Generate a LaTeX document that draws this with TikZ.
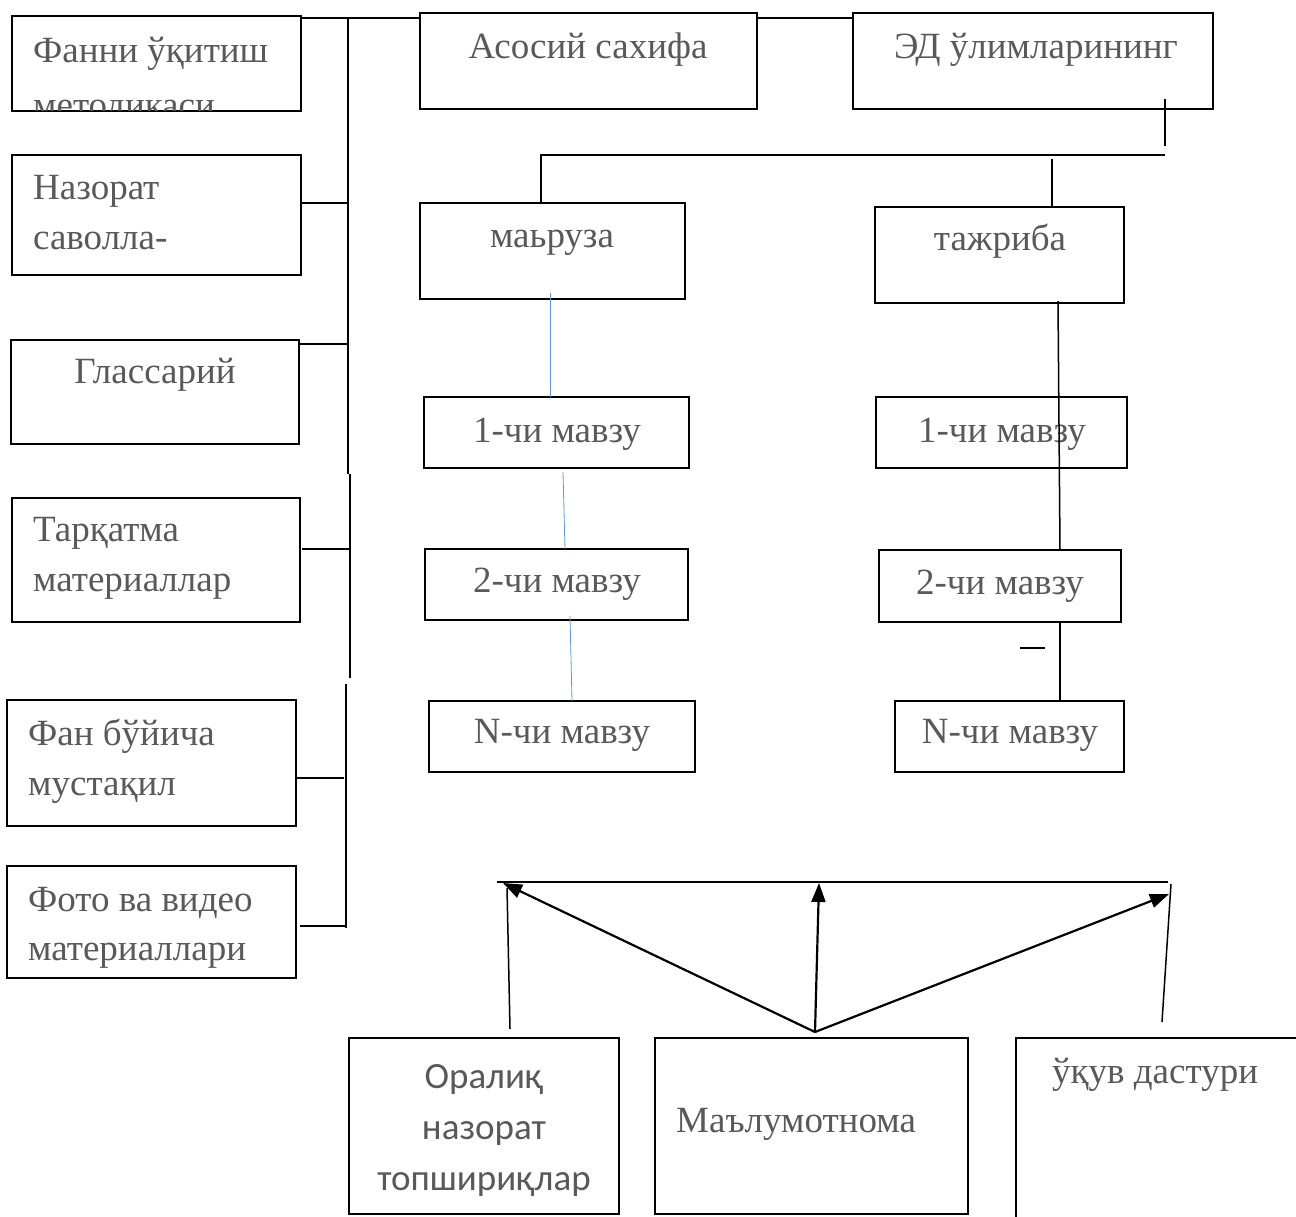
\documentclass[tikz,border=0pt]{standalone}
\usepackage{fontspec}
\setmainfont{Liberation Serif}
\newfontfamily\calib{Carlito}
\usetikzlibrary{arrows.meta}
\definecolor{tcol}{RGB}{89,89,89}
\definecolor{bluel}{RGB}{91,155,213}
\tikzset{
  box/.style={draw=black, line width=1.8pt, inner sep=0pt, outer sep=0pt, anchor=north west},
  nobox/.style={inner sep=0pt, outer sep=0pt, anchor=north west},
  lbl/.style={text=tcol, inner sep=0pt, font=\fontsize{37}{50}\selectfont},
  lblw/.style={lbl, anchor=base west},
  lblc/.style={lbl, anchor=base},
  slbl/.style={text=tcol, inner sep=0pt, anchor=base, font=\calib\fontsize{37}{50}\selectfont},
  conn/.style={line width=1.5pt, black},
  bconn/.style={line width=0.8pt, bluel},
  arr/.style={line width=2.2pt, black, -{Triangle[length=19pt,width=14pt]}}
}
\begin{document}
\begin{tikzpicture}[x=1pt,y=-1pt]
\useasboundingbox (0,0) rectangle (1296,1216);
\fill[white] (0,0) rectangle (1296,1216);
% left column boxes
\node[box, minimum width=289pt, minimum height=95pt] (b1) at (12,16) {};
\node[box, minimum width=289pt, minimum height=120pt] (b2) at (12,155) {};
\node[box, minimum width=288pt, minimum height=104pt] (b3) at (11,340) {};
\node[box, minimum width=288pt, minimum height=124pt] (b4) at (12,498) {};
\node[box, minimum width=289pt, minimum height=126pt] (b5) at (7,700) {};
\node[box, minimum width=289pt, minimum height=112pt] (b6) at (7,866) {};
\begin{scope}
\clip (13,17) rectangle (300,110);
\node[lblw] (t1a) at (33,62) {Фанни ўқитиш};
\node[lblw] (t1b) at (33,117) {методикаси};
\end{scope}
\node[lblw] (t2a) at (33,199) {Назорат};
\node[lblw] (t2b) at (33,249) {саволла-};
\node[lblc] (t3) at (155,383) {Глассарий};
\node[lblw] (t4a) at (33,541) {Тарқатма};
\node[lblw] (t4b) at (33,591) {материаллар};
\node[lblw] (t5a) at (28,745) {Фан бўйича};
\node[lblw] (t5b) at (28,795) {мустақил};
\node[lblw] (t6a) at (28,911) {Фото ва видео};
\node[lblw] (t6b) at (28,960) {материаллари};
% top boxes
\node[box, minimum width=337pt, minimum height=96pt] (asosiy) at (420,13) {};
\node[box, minimum width=360pt, minimum height=96pt] (ed) at (853,13) {};
\node[lblc] (tas) at (588,58) {Асосий сахифа};
\node[lblc] (ted) at (1036,58) {ЭД ўлимларининг};
% second level
\node[box, minimum width=265pt, minimum height=96pt] (maruza) at (420,203) {};
\node[box, minimum width=249pt, minimum height=96pt] (tajriba) at (875,207) {};
\node[lblc] (tma) at (552,247) {маьруза};
\node[lblc] (tta) at (1000,250) {тажриба};
% topics left
\node[box, minimum width=265pt, minimum height=71pt] (l1) at (424,397) {};
\node[box, minimum width=263pt, minimum height=71pt] (l2) at (425,549) {};
\node[box, minimum width=266pt, minimum height=71pt] (l3) at (429,701) {};
\node[lblc] (tl1) at (557,442) {1-чи мавзу};
\node[lblc] (tl2) at (557,592) {2-чи мавзу};
\node[lblc] (tl3) at (562,743) {N-чи мавзу};
% topics right
\node[box, minimum width=251pt, minimum height=71pt] (r1) at (876,397) {};
\node[box, minimum width=242pt, minimum height=72pt] (r2) at (879,550) {};
\node[box, minimum width=229pt, minimum height=71pt] (r3) at (895,701) {};
\node[lblc] (tr1) at (1002,442) {1-чи мавзу};
\node[lblc] (tr2) at (1000,594) {2-чи мавзу};
\node[lblc] (tr3) at (1010,743) {N-чи мавзу};
% bottom boxes
\node[box, minimum width=270pt, minimum height=176pt] (oral) at (349,1038) {};
\node[box, minimum width=313pt, minimum height=176pt] (malum) at (655,1038) {};
\node[nobox, minimum width=282pt, minimum height=180pt] (ukuv) at (1016,1038) {};
\draw[line width=1.8pt] (ukuv.south west) -- (ukuv.north west) -- (ukuv.north east);
\node[slbl] (to1) at (484,1088) {Оралиқ};
\node[slbl] (to2) at (484,1139) {назорат};
\node[slbl] (to3) at (484,1190) {топшириқлар};
\node[lblw] (tm) at (676,1132) {Маълумотнома};
\node[lblw] (tu) at (1052,1083) {ўқув дастури};
% left bus
\coordinate (busTop) at (348,18);
\coordinate (busB) at (348,474);
\coordinate (busC) at (350,474);
\coordinate (busD) at (350,678);
\coordinate (busE) at (346,684);
\coordinate (busF) at (346,928);
\draw[conn] (busTop) -- (busB);
\draw[conn] (busC) -- (busD);
\draw[conn] (busE) -- (busF);
\draw[conn] (b1.east |- busTop) -- (asosiy.west |- busTop);
\draw[conn] (asosiy.east |- busTop) -- (ed.west |- busTop);
\coordinate (c2) at (301,203);
\draw[conn] (c2) -- (c2 -| busTop);
\coordinate (c3) at (299,344);
\draw[conn] (c3) -- (c3 -| busTop);
\coordinate (c4) at (302,549);
\draw[conn] (c4) -- (c4 -| busC);
\coordinate (c5) at (296,778);
\coordinate (c5e) at (344,778);
\draw[conn] (c5) -- (c5e);
\coordinate (c6) at (300,926);
\draw[conn] (c6) -- (c6 -| busF);
% ED to second level
\coordinate (edA) at (1165,99);
\coordinate (edB) at (1165,146);
\draw[conn] (edA) -- (edB);
\coordinate (hL) at (541,155);
\coordinate (hR) at (1165,155);
\draw[conn] (hR) -- (hL) -- (hL |- maruza.north);
\coordinate (tj) at (1052,159);
\draw[conn] (tj) -- (tj |- tajriba.north);
% blue connectors left
\coordinate (bl1) at (550,293);
\draw[bconn] (bl1) -- (bl1 |- l1.north);
\coordinate (bl2a) at (563,472);
\coordinate (bl2b) at (565,549);
\draw[bconn] (bl2a) -- (bl2b);
\coordinate (bl3a) at (570,616);
\coordinate (bl3b) at (572,701);
\draw[bconn] (bl3a) -- (bl3b);
% right connectors
\coordinate (rv1) at (1058,301);
\coordinate (rv1e) at (1060,550);
\draw[conn] (rv1) -- (rv1e);
\coordinate (rv2) at (1060,622);
\draw[conn] (rv2) -- (rv2 |- r3.north);
\draw[conn] (1020,648) -- (1045,648);
% bottom arrows
\coordinate (hb1) at (497,882);
\coordinate (hb2) at (1168,882);
\draw[line width=2.2pt] (hb1) -- (hb2);
\coordinate (mTop) at (815,1032);
\coordinate (aL) at (503,883);
\coordinate (aM) at (819,883);
\coordinate (aR) at (1169,894);
\coordinate (vL) at (510,1029);
\coordinate (vLe) at (507,888);
\coordinate (vR) at (1162,1022);
\coordinate (vRe) at (1171,884);
\draw[line width=1.5pt] (vL) -- (vLe);
\draw[arr] (mTop) -- (aL);
\draw[arr] (mTop) -- (aM);
\draw[arr] (mTop) -- (aR);
\draw[line width=1.5pt] (vR) -- (vRe);
\end{tikzpicture}
\end{document}
